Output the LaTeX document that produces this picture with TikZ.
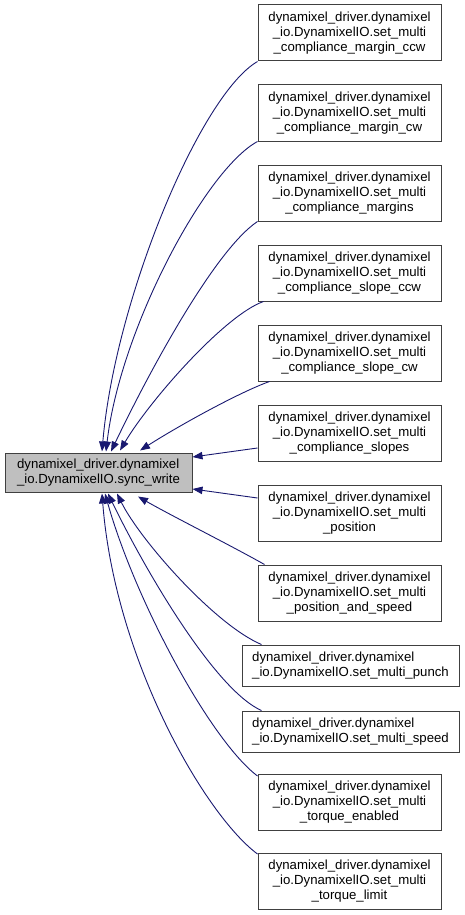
\documentclass[tikz,border=0pt]{standalone}
\usepackage{fontspec}
\setmainfont{Liberation Sans}
\usetikzlibrary{arrows.meta,calc}
\definecolor{edgeblue}{HTML}{191970}
\definecolor{boxline}{HTML}{404040}
\definecolor{mainfill}{HTML}{BFBFBF}
\begin{document}
\begin{tikzpicture}[x=1pt,y=-1pt,
  box/.style={draw=boxline,line width=1pt,inner sep=0pt,fill=white,
    font=\fontsize{13.2}{15}\selectfont},
  threebox/.style={box,minimum width=183pt,minimum height=56pt,align=center},
  twobox/.style={box,minimum width=217pt,minimum height=41pt,align=left},
  mainbox/.style={box,fill=mainfill,minimum width=187pt,minimum height=39pt,align=left},
  edge/.style={draw=edgeblue,line width=0.9pt,-{Triangle[length=10pt,width=7.5pt]}}]
\useasboundingbox (0,0) rectangle (464,915);
\node[mainbox] (main) at (98.5,472.5) {dynamixel\_driver.dynamixel\\\_io.DynamixelIO.sync\_write};
\node[threebox] (n1) at (349.5,33) {dynamixel\_driver.dynamixel\\\_io.DynamixelIO.set\_multi\\\_compliance\_margin\_ccw};
\node[threebox] (n2) at (349.5,113) {dynamixel\_driver.dynamixel\\\_io.DynamixelIO.set\_multi\\\_compliance\_margin\_cw};
\node[threebox] (n3) at (349.5,193) {dynamixel\_driver.dynamixel\\\_io.DynamixelIO.set\_multi\\\_compliance\_margins};
\node[threebox] (n4) at (349.5,273) {dynamixel\_driver.dynamixel\\\_io.DynamixelIO.set\_multi\\\_compliance\_slope\_ccw};
\node[threebox] (n5) at (349.5,353) {dynamixel\_driver.dynamixel\\\_io.DynamixelIO.set\_multi\\\_compliance\_slope\_cw};
\node[threebox] (n6) at (349.5,433) {dynamixel\_driver.dynamixel\\\_io.DynamixelIO.set\_multi\\\_compliance\_slopes};
\node[threebox] (n7) at (349.5,513) {dynamixel\_driver.dynamixel\\\_io.DynamixelIO.set\_multi\\\_position};
\node[threebox] (n8) at (349.5,593) {dynamixel\_driver.dynamixel\\\_io.DynamixelIO.set\_multi\\\_position\_and\_speed};
\node[twobox] (n9) at (350.5,665.5) {dynamixel\_driver.dynamixel\\\_io.DynamixelIO.set\_multi\_punch};
\node[twobox] (n10) at (350.5,731.5) {dynamixel\_driver.dynamixel\\\_io.DynamixelIO.set\_multi\_speed};
\node[threebox] (n11) at (349.5,802.5) {dynamixel\_driver.dynamixel\\\_io.DynamixelIO.set\_multi\\\_torque\_enabled};
\node[threebox] (n12) at (349.5,881.5) {dynamixel\_driver.dynamixel\\\_io.DynamixelIO.set\_multi\\\_torque\_limit};
% upper edges
\draw[edge] (n1.south west) .. controls (200,95) and (115,300) .. ($(main.north)+(3.5,-1)$);
\draw[edge] (n2.south west) .. controls (205,170) and (120,330) .. ($(main.north)+(7.5,-1)$);
\draw[edge] (n3.south west) .. controls (215,250) and (150,370) .. ($(main.north)+(12.5,-1)$);
\draw[edge] ($(n4.south west)+(6,0)$) .. controls (225,315) and (150,400) .. ($(main.north)+(21.5,-2)$);
\draw[edge] ($(n5.south west)+(12,0)$) .. controls (240,392) and (180,425) .. ($(main.north)+(41.5,-2)$);
\draw[edge] ($(n6.west)+(0,15)$) -- ($(main.east)+(0,-15.5)$);
\draw[edge] ($(n7.west)+(0,-15)$) -- ($(main.east)+(0,16.5)$);
% lower edges
\draw[edge] ($(n8.north west)+(7,0)$) .. controls (230,545) and (170,515) .. ($(main.south)+(39.5,4)$);
\draw[edge] ($(n9.north west)+(20,0)$) .. controls (215,625) and (140,540) .. ($(main.south)+(18.5,1)$);
\draw[edge] ($(n10.north west)+(20,0)$) .. controls (215,690) and (145,570) .. ($(main.south)+(9.5,1)$);
\draw[edge] ($(n11.north west)+(0,2)$) .. controls (210,740) and (135,600) .. ($(main.south)+(6.5,1)$);
\draw[edge] ($(n12.north west)+(0,1)$) .. controls (205,815) and (115,660) .. ($(main.south)+(3.5,1)$);
\end{tikzpicture}
\end{document}
